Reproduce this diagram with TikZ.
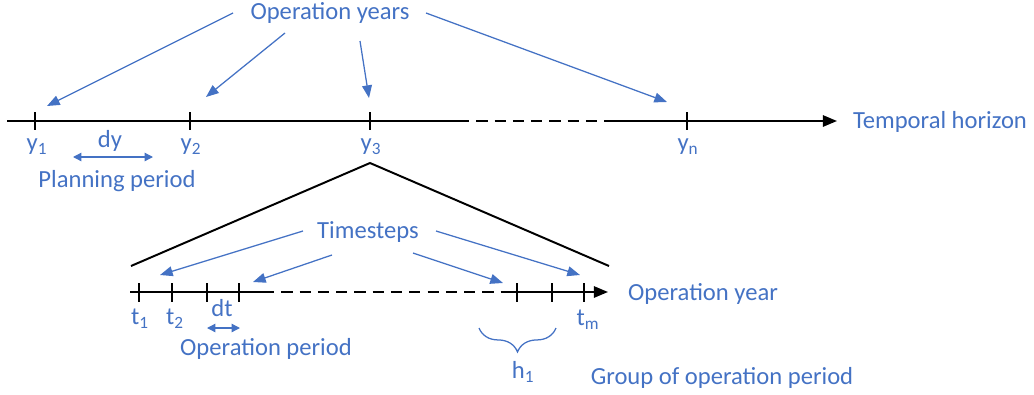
\documentclass[tikz,border=0pt]{standalone}
\usepackage{fontspec}
\setmainfont{Carlito}
\usetikzlibrary{arrows.meta,decorations.pathreplacing}
\definecolor{txtblue}{HTML}{4472C4}
\tikzset{
  lbl/.style={text=txtblue, font=\fontsize{17.5}{20}\selectfont, inner sep=0pt},
  ptr/.style={draw=txtblue, line width=0.9pt, -{Triangle[length=9pt,width=7pt]}},
  span/.style={draw=txtblue, line width=0.9pt, {Triangle[length=6pt,width=6pt]}-{Triangle[length=6pt,width=6pt]}},
  axis/.style={line width=1.4pt, black},
  tickmark/.style={line width=1.1pt, black}
}
\begin{document}
\begin{tikzpicture}[x=0.025cm, y=-0.025cm]
\useasboundingbox (0,0) rectangle (1034,395);

% Temporal horizon - upper axis
\draw[axis] (7,121) -- (458,121);
\draw[axis, dash pattern=on 8pt off 5pt] (458,121) -- (613,121);
\draw[axis, -{Triangle[length=10pt,width=8pt]}] (613,121) -- (837,121);
\foreach \x/\n in {35/1,190/2,370/3,687/n} {
  \draw[tickmark] (\x,112) -- (\x,130);
}
\node[lbl] (ly1) at (37,147) {y\textsubscript{1}};
\node[lbl] (ly2) at (191,147) {y\textsubscript{2}};
\node[lbl] (ly3) at (371,147) {y\textsubscript{3}};
\node[lbl] (lyn) at (688,147) {y\textsubscript{n}};
\node[lbl] (horizon) at (940,122) {Temporal horizon};

% Planning period
\node[lbl] (dy) at (110,141) {dy};
\coordinate (dy-l) at (73,157);
\coordinate (dy-r) at (153,157);
\draw[span] (dy-l) -- (dy-r);
\node[lbl] (planning) at (117,181) {Planning period};

% Operation years
\node[lbl] (opyears) at (330,13) {Operation years};
\coordinate (oy-s1) at (233,13);  \coordinate (oy-e1) at (47,106);
\coordinate (oy-s2) at (285,33);  \coordinate (oy-e2) at (206,97);
\coordinate (oy-s3) at (360,41);  \coordinate (oy-e3) at (369,98);
\coordinate (oy-s4) at (426,13);  \coordinate (oy-e4) at (667,102);
\foreach \i in {1,...,4} {
  \draw[ptr] (oy-s\i) -- (oy-e\i);
}

% Zoom onto one operation year
\coordinate (zoom-l) at (131,266);
\coordinate (zoom-top) at (370,163);
\coordinate (zoom-r) at (609,266);
\draw[axis] (zoom-l) -- (zoom-top) -- (zoom-r);

% Operation year - lower axis
\draw[axis] (130,292) -- (263,292);
\draw[axis, dash pattern=on 8pt off 5pt] (263,292) -- (505,292);
\draw[axis, -{Triangle[length=10pt,width=8pt]}] (505,292) -- (608,292);
\foreach \x in {139,172,207,239,517,552,584} {
  \draw[tickmark] (\x,283) -- (\x,302);
}
\node[lbl] (lt1) at (140,319) {t\textsubscript{1}};
\node[lbl] (lt2) at (175,319) {t\textsubscript{2}};
\node[lbl] (ltm) at (588,320) {t\textsubscript{m}};
\node[lbl] (opyear) at (703,294) {Operation year};

% Timesteps
\node[lbl] (timesteps) at (368,232) {Timesteps};
\coordinate (ts-s1) at (303,231);  \coordinate (ts-e1) at (160,275);
\coordinate (ts-s2) at (332,255);  \coordinate (ts-e2) at (253,282);
\coordinate (ts-s3) at (413,253);  \coordinate (ts-e3) at (503,283);
\coordinate (ts-s4) at (436,231);  \coordinate (ts-e4) at (580,275);
\foreach \i in {1,...,4} {
  \draw[ptr] (ts-s\i) -- (ts-e\i);
}

% Operation period
\node[lbl] (dt) at (222,308) {dt};
\coordinate (dt-l) at (207,328);
\coordinate (dt-r) at (240,328);
\draw[span] (dt-l) -- (dt-r);
\node[lbl] (opperiod) at (266,349) {Operation period};

% Group of operation period
\coordinate (grp-l) at (479,328);
\coordinate (grp-r) at (556,328);
\draw[draw=txtblue, line width=0.9pt, decorate, decoration={brace, mirror, amplitude=17pt}] (grp-l) -- (grp-r);
\node[lbl] (lh1) at (523,372) {h\textsubscript{1}};
\node[lbl] (group) at (722,378) {Group of operation period};
\end{tikzpicture}
\end{document}
